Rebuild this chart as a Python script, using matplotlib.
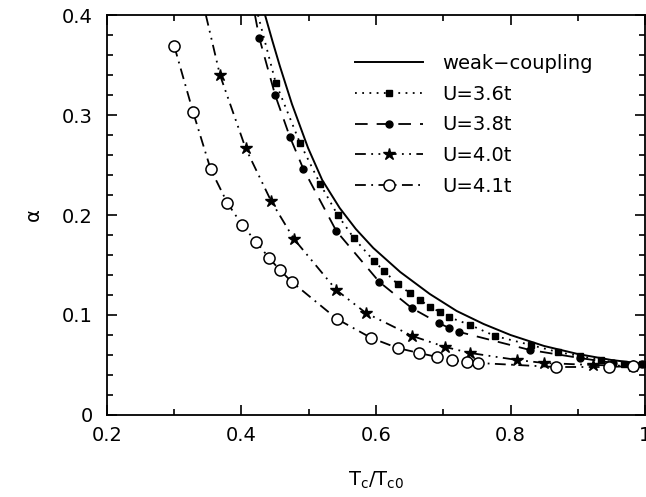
import matplotlib
matplotlib.use("Agg")
import matplotlib.pyplot as plt
from matplotlib.ticker import MultipleLocator, FuncFormatter

# curva de acoplamiento debil
tc_weak = [0.435, 0.446, 0.457, 0.475, 0.499, 0.520, 0.546, 0.570, 0.596, 0.636,
           0.680, 0.720, 0.760, 0.800, 0.850, 0.900, 0.950, 1.000]
a_weak = [0.400, 0.374, 0.349, 0.311, 0.267, 0.235, 0.207, 0.186, 0.167, 0.143,
          0.121, 0.104, 0.091, 0.080, 0.069, 0.061, 0.055, 0.051]

# U = 3.6t (el primer punto es donde la linea toca el borde superior)
tc_36 = [0.4245, 0.451, 0.487, 0.517, 0.543, 0.567, 0.597, 0.612, 0.632, 0.650, 0.665,
         0.681, 0.695, 0.708, 0.740, 0.777, 0.830, 0.870, 0.903, 0.935, 0.968, 0.995]
a_36 = [0.400, 0.332, 0.272, 0.231, 0.200, 0.177, 0.154, 0.144, 0.131, 0.122, 0.115,
        0.108, 0.103, 0.098, 0.090, 0.079, 0.070, 0.063, 0.059, 0.055, 0.051, 0.051]

# U = 3.8t
tc_38 = [0.420, 0.4265, 0.450, 0.472, 0.492, 0.541, 0.605, 0.653, 0.693, 0.709, 0.724,
         0.829, 0.903, 0.953, 0.995]
a_38 = [0.400, 0.377, 0.320, 0.278, 0.246, 0.184, 0.133, 0.107, 0.092, 0.087, 0.083,
        0.065, 0.057, 0.052, 0.051]

# U = 4.0t
tc_40 = [0.347, 0.368, 0.406, 0.444, 0.478, 0.541, 0.585, 0.654, 0.703, 0.740, 0.810,
         0.850, 0.923, 0.982]
a_40 = [0.400, 0.340, 0.267, 0.214, 0.176, 0.125, 0.102, 0.079, 0.068, 0.062, 0.055,
        0.052, 0.050, 0.049]

# U = 4.1t
tc_41 = [0.300, 0.328, 0.354, 0.379, 0.401, 0.422, 0.441, 0.457, 0.475, 0.542, 0.593,
         0.632, 0.664, 0.691, 0.713, 0.735, 0.752, 0.867, 0.947, 0.982]
a_41 = [0.369, 0.303, 0.246, 0.212, 0.190, 0.173, 0.157, 0.145, 0.133, 0.096, 0.077,
        0.067, 0.062, 0.058, 0.055, 0.053, 0.052, 0.048, 0.048, 0.049]

plt.rcParams['font.family'] = ['DejaVu Sans']
plt.rcParams['font.size'] = 14

fig = plt.figure(figsize=(6.46, 4.97), dpi=100)
ax = fig.add_axes([0.1656, 0.165, 0.8329, 0.8048])

ax.plot(tc_weak, a_weak, '-', color='black', lw=1.4, label='weak−coupling')
ax.plot(tc_36, a_36, color='black', lw=1.3, ls=(0, (1, 3)), marker='s', ms=4.5,
        markevery=list(range(1, len(tc_36))), label='U=3.6t')
ax.plot(tc_38, a_38, color='black', lw=1.3, ls=(0, (7, 5)), marker='o', ms=5,
        markevery=list(range(1, len(tc_38))), label='U=3.8t')
ax.plot(tc_40, a_40, color='black', lw=1.3, ls=(0, (6, 3, 1, 3, 1, 3)), marker='*', ms=9,
        markevery=list(range(1, len(tc_40))), label='U=4.0t')
ax.plot(tc_41, a_41, color='black', lw=1.3, ls=(0, (6, 3, 1, 3)), marker='o', ms=8,
        mfc='white', mec='black', mew=1.1, label='U=4.1t')

ax.set_xlim(0.2, 1.0)
ax.set_ylim(0, 0.4)
ax.xaxis.set_major_locator(MultipleLocator(0.2))
ax.xaxis.set_minor_locator(MultipleLocator(0.1))
ax.yaxis.set_major_locator(MultipleLocator(0.1))
ax.yaxis.set_minor_locator(MultipleLocator(0.02))
fmt = FuncFormatter(lambda v, p: f'{v:g}')
ax.xaxis.set_major_formatter(fmt)
ax.yaxis.set_major_formatter(fmt)
ax.tick_params(which='both', direction='in', top=True, right=True, width=1.2)
ax.tick_params(which='major', length=7, labelsize=14)
ax.tick_params(axis='x', which='major', pad=8)
ax.tick_params(axis='y', which='major', pad=10)
ax.tick_params(which='minor', length=4)
for s in ax.spines.values():
    s.set_linewidth(1.3)

ax.set_xlabel('T$_\\mathregular{c}$/T$_\\mathregular{c0}$', fontsize=14, labelpad=18)
ax.set_ylabel('α', fontsize=14, labelpad=14)

ax.legend(loc='upper left', bbox_to_anchor=(0.446, 0.922), borderaxespad=0, frameon=False,
          handlelength=3.5, handletextpad=1.0, labelspacing=0.6, fontsize=14)

fig.savefig('out.png', dpi=100)
